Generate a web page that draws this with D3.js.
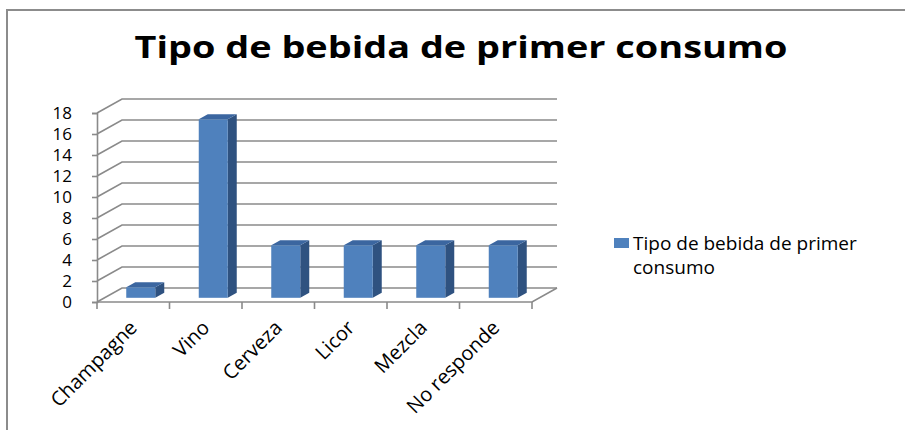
<!DOCTYPE html>
<html>
<head>
<meta charset="utf-8">
<script src="https://cdn.jsdelivr.net/npm/d3@7"></script>
<style>
  body { margin: 0; background: #fff; }
  svg { display: block; }
</style>
</head>
<body>
<div id="chart"></div>
<script>
// data
var categories = ["Champagne", "Vino", "Cerveza", "Licor", "Mezcla", "No responde"];
var values = [1, 17, 5, 5, 5, 5];
var yTicks = [0, 2, 4, 6, 8, 10, 12, 14, 16, 18];
var seriesName = ["Tipo de bebida de primer", "consumo"];
var titleText = "Tipo de bebida de primer consumo";

var W = 905, H = 430;
var svg = d3.select("#chart").append("svg").attr("width", W).attr("height", H);
var font = "'Open Sans', sans-serif";

// frame (only top and left visible)
svg.append("path")
  .attr("d", "M7,430 L7,10 L905,10")
  .attr("fill", "none").attr("stroke", "#8c8c8c").attr("stroke-width", 2);

// 3d wall offset
var depthX = 25, depthY = -14;
var d0 = 0.3, d1 = 0.66;   // bar depth inside floor

var x = d3.scaleBand().domain(categories).range([97, 532])
  .paddingInner(0.6).paddingOuter(0.3);
var y = d3.scaleLinear().domain([0, 18]).range([302, 113]);

var grid = "#8a8a8a";

// back wall gridlines + diagonals on side wall
var g = svg.append("g");
yTicks.forEach(function(t) {
  var yy = y(t);
  g.append("path")
    .attr("d", "M97," + yy + " L" + (97 + depthX) + "," + (yy + depthY) + " L" + (532 + depthX) + "," + (yy + depthY))
    .attr("fill", "none").attr("stroke", grid).attr("stroke-width", 1.6);
});

// floor front edge and right edge
g.append("path")
  .attr("d", "M97," + y(0) + " L532," + y(0) + " L" + (532 + depthX) + "," + (y(0) + depthY))
  .attr("fill", "none").attr("stroke", grid).attr("stroke-width", 1.6);

// y axis
var yAxis = d3.axisLeft(y).tickValues(yTicks).tickSize(5).tickPadding(20);
var ya = svg.append("g").attr("transform", "translate(97,0)").call(yAxis);
ya.select(".domain").attr("stroke", grid).attr("stroke-width", 1.6);
ya.selectAll(".tick line").attr("stroke", grid).attr("stroke-width", 1.6);
ya.selectAll("text").attr("font-family", font)
  .attr("font-size", 17).attr("fill", "#000");

// x axis ticks at category boundaries
var step = x.step();
var xt = d3.range(categories.length + 1).map(function(i) { return 97 + i * step; });
svg.append("g").selectAll("line").data(xt).enter().append("line")
  .attr("x1", function(d) { return d; }).attr("x2", function(d) { return d; })
  .attr("y1", y(0)).attr("y2", y(0) + 7)
  .attr("stroke", grid).attr("stroke-width", 1.6);

// x labels, rotated
svg.append("g").selectAll("text").data(categories).enter().append("text")
  .attr("transform", function(d) {
    var cx = x(d) + x.bandwidth() / 2 + 5;
    return "translate(" + cx + "," + (y(0) + 27) + ") rotate(-45)";
  })
  .attr("text-anchor", "end")
  .attr("font-family", font)
  .attr("font-size", 20).attr("fill", "#000")
  .text(function(d) { return d; });

// bars
var cFront = "#4f81bd", cSide = "#2f5280", cTop = "#3b66a0";
var bars = svg.append("g").selectAll("g").data(categories).enter().append("g");
bars.each(function(d, i) {
  var bx = x(d) + d0 * depthX;
  var bw = x.bandwidth();
  var by0 = y(0) + d0 * depthY;
  var by1 = y(values[i]) + d0 * depthY;
  var ddx = (d1 - d0) * depthX, ddy = (d1 - d0) * depthY;
  var sel = d3.select(this);
  // side
  sel.append("path")
    .attr("d", "M" + (bx + bw) + "," + by0 + " L" + (bx + bw) + "," + by1 +
      " L" + (bx + bw + ddx) + "," + (by1 + ddy) + " L" + (bx + bw + ddx) + "," + (by0 + ddy) + "Z")
    .attr("fill", cSide);
  // top
  sel.append("path")
    .attr("d", "M" + bx + "," + by1 + " L" + (bx + bw) + "," + by1 +
      " L" + (bx + bw + ddx) + "," + (by1 + ddy) + " L" + (bx + ddx) + "," + (by1 + ddy) + "Z")
    .attr("fill", cTop);
  // front
  sel.append("rect")
    .attr("x", bx).attr("y", by1).attr("width", bw).attr("height", by0 - by1)
    .attr("fill", cFront);
});

// title
svg.append("text")
  .attr("x", 461).attr("y", 58)
  .attr("text-anchor", "middle")
  .attr("font-family", font).attr("font-weight", 700)
  .attr("font-size", 30).attr("fill", "#000")
  .attr("textLength", 653).attr("lengthAdjust", "spacingAndGlyphs")
  .text(titleText);

// legend
var lg = svg.append("g");
lg.append("rect").attr("x", 614).attr("y", 238).attr("width", 15).attr("height", 10).attr("fill", cFront);
var lt = lg.append("text").attr("font-family", font)
  .attr("font-size", 19).attr("fill", "#000");
lt.selectAll("tspan").data(seriesName).enter().append("tspan")
  .attr("x", 633).attr("y", function(d, i) { return 250 + i * 24; })
  .text(function(d) { return d; });
</script>
</body>
</html>
